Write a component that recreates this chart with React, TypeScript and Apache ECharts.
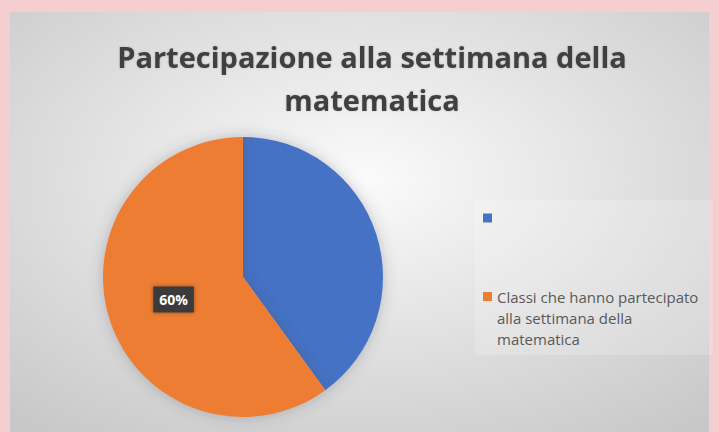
import React, { useEffect, useRef } from 'react';
import * as echarts from 'echarts';

const TITLE_LINES = ['Partecipazione alla settimana della', 'matematica'];
const CATEGORIES = [' ', 'Classi che hanno partecipato alla settimana della matematica'];
const VALUES = [40, 60];
const COLORS = ['#4472C4', '#ED7D31'];
const LEGEND_LINES = [[' '], ['Classi che hanno partecipato', 'alla settimana della', 'matematica']];
const SHOW_LABEL = [false, true];

export default function App() {
  const ref = useRef<HTMLDivElement>(null);
  useEffect(() => {
    if (!ref.current) return;
    const chart = echarts.init(ref.current, null, { renderer: 'svg' });
    const lineH = 21;
    // pad a multi-line legend label with blank lines on top so that its first line sits beside the icon
    const legendText = (i: number) => {
      const lines = LEGEND_LINES[i];
      const blanks = new Array(lines.length - 1).fill('');
      return blanks.concat(lines).join('\n');
    };
    chart.setOption({
      animation: false,
      backgroundColor: '#f5cfcf',
      graphic: [
        {
          type: 'rect',
          z: -10,
          silent: true,
          shape: { x: 10, y: 12, width: 699, height: 420 },
          style: {
            fill: new echarts.graphic.RadialGradient(0.5, 0.4, 0.75, [
              { offset: 0, color: '#fbfbfb' },
              { offset: 1, color: '#c8c8c8' },
            ]),
          },
        },
        {
          type: 'rect',
          z: -5,
          silent: true,
          shape: { x: 475, y: 200, width: 238, height: 155 },
          style: { fill: 'rgba(255,255,255,0.18)' },
        },
      ],
      title: {
        text: TITLE_LINES.join('\n'),
        left: 372,
        textAlign: 'center',
        top: 35,
        padding: 0,
        textStyle: {
          fontFamily: 'Open Sans',
          fontSize: 29,
          fontWeight: 'bold',
          color: '#404040',
          lineHeight: 43,
          textShadowColor: 'rgba(0,0,0,0.2)',
          textShadowBlur: 2,
        },
      },
      legend: {
        orient: 'vertical',
        left: 483,
        top: 207.5,
        padding: 0,
        itemWidth: 9,
        itemHeight: 9,
        itemGap: 15.5,
        icon: 'rect',
        selectedMode: false,
        data: CATEGORIES,
        formatter: (name: string) => legendText(CATEGORIES.indexOf(name)),
        textStyle: {
          fontFamily: 'Open Sans',
          fontSize: 15,
          color: '#595959',
          lineHeight: lineH,
        },
      },
      series: [
        {
          type: 'pie',
          center: [243, 277],
          radius: 140,
          startAngle: 90,
          clockwise: true,
          silent: true,
          emphasis: { disabled: true },
          itemStyle: { shadowBlur: 14, shadowColor: 'rgba(60,70,90,0.3)' },
          labelLine: { show: false },
          label: {
            position: 'inside',
            formatter: '{d}%',
            color: '#ffffff',
            fontFamily: 'Open Sans',
            fontWeight: 'bold',
            fontSize: 14,
            backgroundColor: '#3b3b3b',
            padding: [6, 6],
            shadowBlur: 4,
            shadowColor: 'rgba(0,0,0,0.4)',
          },
          data: CATEGORIES.map((name, i) => ({
            name,
            value: VALUES[i],
            itemStyle: { color: COLORS[i] },
            label: { show: SHOW_LABEL[i] },
          })),
        },
      ],
    });
    return () => chart.dispose();
  }, []);
  return <div ref={ref} style={{ position: 'fixed', left: 0, top: 0, width: 719, height: 432 }} />;
}
